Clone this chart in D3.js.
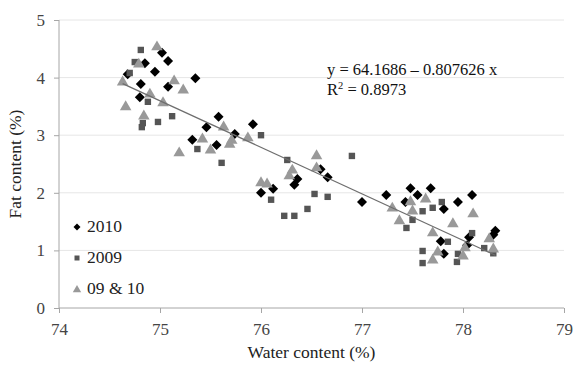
<!DOCTYPE html>
<html><head><meta charset="utf-8">
<script src="https://cdn.jsdelivr.net/npm/d3@7"></script>
<style>body{margin:0;background:#fff;}svg{display:block;font-family:"Liberation Serif","Times New Roman",serif;}</style>
</head><body><svg id="c" width="573" height="365"></svg>
<script>
const xTicks = [74, 75, 76, 77, 78, 79];
const yTicks = [0, 1, 2, 3, 4, 5];
const seriesNames = ["2010", "2009", "09 & 10"];
const water2010 = [75.02,75.08,74.85,74.95,74.68,75.35,74.81,75.08,74.80,75.58,75.46,75.92,75.74,75.32,75.56,76.36,76.33,76.12,76.00,76.59,76.66,77.00,77.24,77.48,77.55,77.43,77.68,77.81,77.95,78.09,77.78,78.06,78.04,77.81,78.32,78.30];
const fat2010   = [4.43,4.29,4.25,4.10,4.06,3.99,3.89,3.84,3.66,3.32,3.14,3.19,3.02,2.92,2.83,2.24,2.14,2.07,2.00,2.41,2.27,1.84,1.96,2.08,1.96,1.84,2.08,1.72,1.84,1.96,1.16,1.23,1.09,0.94,1.34,1.27];
const water2009 = [74.81,74.75,74.70,74.88,75.12,74.98,74.83,74.82,75.37,75.61,76.00,76.26,76.10,76.23,76.33,76.46,76.90,76.53,76.66,77.60,77.50,77.44,77.60,77.60,77.79,77.70,77.85,78.09,77.95,77.94,78.21,78.30];
const fat2009   = [4.48,4.27,4.08,3.58,3.33,3.23,3.21,3.14,2.76,2.52,3.00,2.57,1.88,1.60,1.60,1.72,2.64,1.98,1.93,1.68,1.53,1.39,0.99,0.78,1.84,1.74,1.15,1.30,0.94,0.80,1.04,0.95];
const waterBoth = [74.97,74.79,74.63,75.14,75.23,74.90,75.03,74.66,74.84,75.63,75.87,75.42,75.71,75.69,75.50,75.19,76.31,76.28,76.00,76.06,76.55,76.55,77.30,77.48,77.50,77.63,77.37,78.10,77.90,77.70,77.75,77.70,78.00,78.02,78.26,78.30];
const fatBoth   = [4.55,4.25,3.94,3.96,3.80,3.73,3.58,3.51,3.35,3.16,2.97,2.95,2.93,2.86,2.76,2.71,2.41,2.31,2.19,2.17,2.66,2.45,1.75,1.86,1.70,1.91,1.53,1.65,1.48,1.32,0.99,0.85,0.92,1.06,1.22,1.04];
const intercept = 64.1686, slope = -0.807626;
const eqText = "y = 64.1686 \u2013 0.807626 x";
const r2Value = "0.8973";

const svg = d3.select("#c");
const L = 59, R = 564, T = 20, B = 308;
const x = d3.scaleLinear().domain([74, 79]).range([L, R]);
const y = d3.scaleLinear().domain([0, 5]).range([B, T]);
const axisCol = "#a6a6a6";

// gridlines
svg.append("g").selectAll("line").data(yTicks.filter(d => d > 0)).join("line")
  .attr("x1", L).attr("x2", R).attr("y1", d => y(d)).attr("y2", d => y(d))
  .attr("stroke", "#e6e6e6").attr("stroke-width", 1);

// axes
const gx = svg.append("g").attr("transform", `translate(0,${B})`)
  .call(d3.axisBottom(x).tickValues(xTicks).tickSize(5).tickPadding(10).tickFormat(d3.format("d")));
const gy = svg.append("g").attr("transform", `translate(${L},0)`)
  .call(d3.axisLeft(y).tickValues(yTicks).tickSize(5).tickPadding(9).tickFormat(d3.format("d")));
[gx, gy].forEach(g => {
  g.selectAll("path, line").attr("stroke", axisCol);
  g.selectAll("text").attr("font-size", 17).attr("fill", "#444").attr("font-family", "Liberation Serif, serif");
});
gy.select(".domain").attr("d", `M0,${B}V${T}`);
gx.select(".domain").attr("d", `M${L},0H${R}`);

// marker shapes
const diamond = (cx, cy, r) => `M${cx},${cy - r}L${cx + r},${cy}L${cx},${cy + r}L${cx - r},${cy}Z`;
const square = (cx, cy, s) => `M${cx - s},${cy - s}h${2 * s}v${2 * s}h${-2 * s}Z`;
const tri = (cx, cy, s) => `M${cx},${cy - s}L${cx + s * 1.05},${cy + s * 0.8}L${cx - s * 1.05},${cy + s * 0.8}Z`;

const pts = (xs, ys) => xs.map((v, i) => [v, ys[i]]);
svg.append("g").selectAll("path").data(pts(water2010, fat2010)).join("path")
  .attr("d", d => diamond(x(d[0]), y(d[1]), 5)).attr("fill", "#000");
svg.append("g").selectAll("path").data(pts(water2009, fat2009)).join("path")
  .attr("d", d => square(x(d[0]), y(d[1]), 3.2)).attr("fill", "#555");
svg.append("g").selectAll("path").data(pts(waterBoth, fatBoth)).join("path")
  .attr("d", d => tri(x(d[0]), y(d[1]), 5.5)).attr("fill", "#999");

// trendline
const allX = water2010.concat(water2009, waterBoth);
const xr = d3.extent(allX);
svg.append("line")
  .attr("x1", x(xr[0])).attr("y1", y(intercept + slope * xr[0]))
  .attr("x2", x(xr[1])).attr("y2", y(intercept + slope * xr[1]))
  .attr("stroke", "#6e6e6e").attr("stroke-width", 1.3);

// equation
svg.append("text").attr("x", 327).attr("y", 75).attr("font-size", 16.5).attr("fill", "#111").text(eqText);
const r2 = svg.append("text").attr("x", 327).attr("y", 95).attr("font-size", 16.5).attr("fill", "#111");
r2.append("tspan").text("R");
r2.append("tspan").attr("dy", -6).attr("font-size", 10.5).text("2");
r2.append("tspan").attr("dy", 6).text(" = " + r2Value);

// legend
const legY = [232, 263, 294];
const lg = svg.append("g");
seriesNames.forEach((n, i) => {
  const cx = 77, cy = legY[i] - 5;
  let d, f;
  if (i === 0) { d = diamond(cx, cy, 3.5); f = "#000"; }
  else if (i === 1) { d = square(cx, cy, 2.5); f = "#555"; }
  else { d = tri(cx, cy, 4); f = "#999"; }
  lg.append("path").attr("d", d).attr("fill", f);
  lg.append("text").attr("x", 87).attr("y", legY[i]).attr("font-size", 17.5).attr("fill", "#222").text(n);
});

// axis titles
svg.append("text").attr("x", (L + R) / 2).attr("y", 358).attr("text-anchor", "middle")
  .attr("font-size", 17.5).attr("fill", "#222").text("Water content (%)");
svg.append("text").attr("transform", `translate(21,${(T + B) / 2}) rotate(-90)`).attr("text-anchor", "middle")
  .attr("font-size", 17.5).attr("fill", "#222").text("Fat content (%)");
</script></body></html>
